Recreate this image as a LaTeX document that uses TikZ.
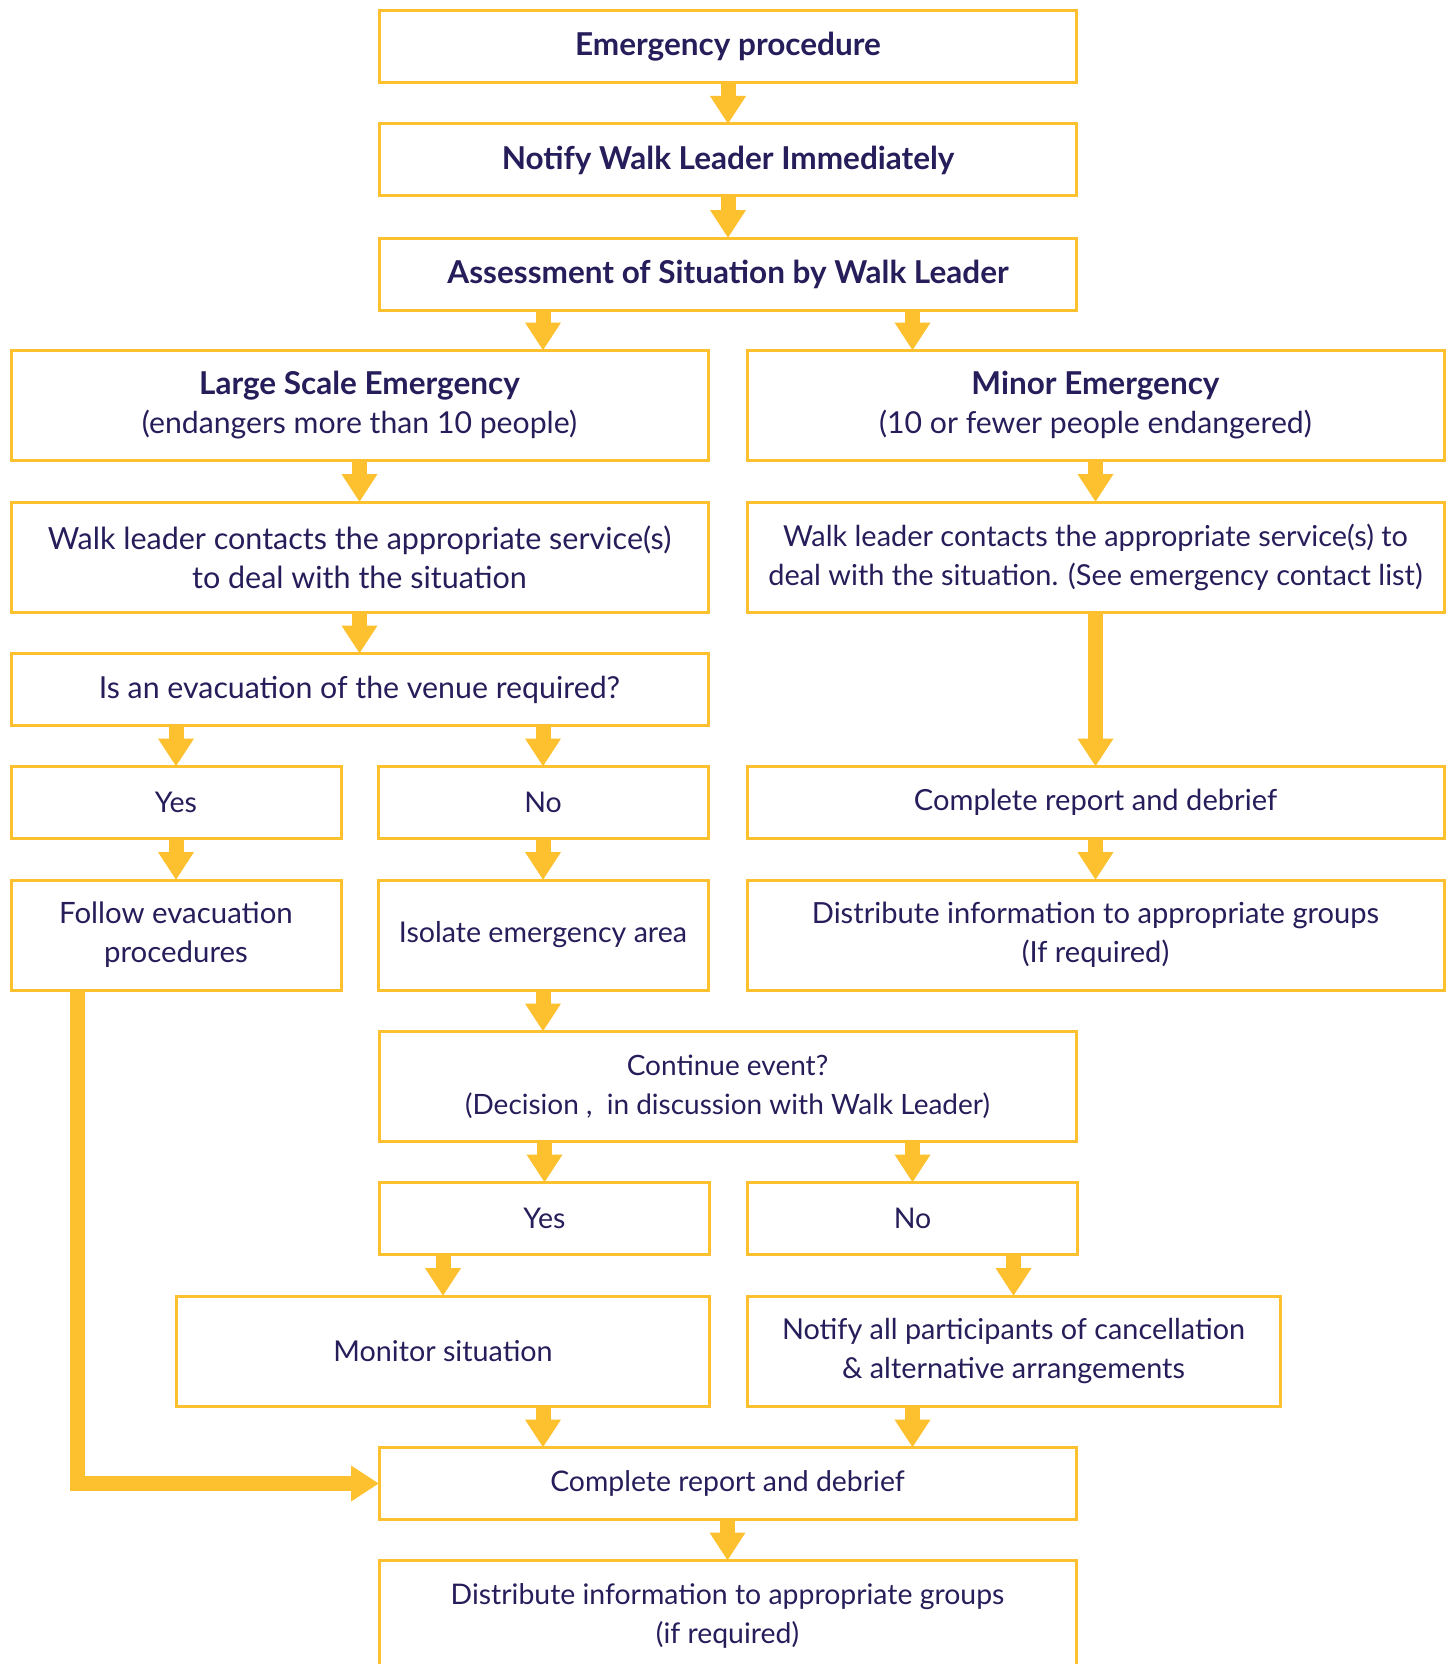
\documentclass[tikz,border=0pt]{standalone}
\usepackage{fontspec}
\setmainfont{Lato}
\usetikzlibrary{arrows.meta}
\definecolor{ybox}{RGB}{253,193,47}
\definecolor{ink}{RGB}{38,30,90}
\begin{document}
\begin{tikzpicture}[x=1pt,y=-1pt,
 box/.style={draw=ybox, line width=3pt, text=ink, align=center, inner sep=0pt, outer sep=0pt,
   font=\fontsize{28.5}{39}\selectfont},
 fsz/.style={font=\fontsize{#1}{39}\selectfont},
 wbig/.style={minimum width=697pt},
 wsmall/.style={minimum width=330pt},
 wmid/.style={minimum width=533pt},
 hs/.style={minimum height=72pt},
 ht/.style={minimum height=110pt},
 arr/.style={draw=ybox, line width=15pt, -{Triangle[width=34pt,length=28pt]}},
]
\path[use as bounding box, clip] (0,0) rectangle (1454,1664);
\fill[white] (0,0) rectangle (1454,1664);

\node[box,wbig,hs,fsz=31.5] (e1) at (728,47) {\bfseries Emergency procedure};
\node[box,wbig,hs,fsz=31.5] (e2) at (728,160) {\bfseries Notify Walk Leader Immediately};
\node[box,wbig,hs,fsz=31.5] (e3) at (728,274) {\bfseries Assessment of Situation by Walk Leader};

\node[box,wbig,ht,fsz=30.2] (large) at (359.5,405.5) {{\fontsize{31.5}{39}\selectfont\bfseries Large Scale Emergency}\\(endangers more than 10 people)};
\node[box,wbig,ht,fsz=30.2] (minor) at (1095.5,405.5) {{\fontsize{31.5}{39}\selectfont\bfseries Minor Emergency}\\(10 or fewer people endangered)};

\node[box,wbig,ht,fsz=30.5] (walkL) at (359.5,557) {Walk leader contacts the appropriate service(s)\\to deal with the situation};
\node[box,wbig,ht,fsz=28.9] (walkR) at (1095.5,557) {Walk leader contacts the appropriate service(s) to\\deal with the situation. (See emergency contact list)};

\node[box,wbig,hs,fsz=30.3] (evac) at (359.5,689.5) {Is an evacuation of the venue required?};

\node[box,wsmall,hs] (yes1) at (176,802.5) {Yes};
\node[box,wsmall,hs] (no1) at (543,802.5) {No};
\node[box,wbig,hs,fsz=29.1] (compR) at (1095.5,802.5) {Complete report and debrief};

\node[box,wsmall,ht,fsz=29.4] (follow) at (176,935) {Follow evacuation\\procedures};
\node[box,wsmall,ht,fsz=28.6] (isolate) at (543,935) {Isolate emergency area};
\node[box,wbig,ht,fsz=29.1] (distR) at (1095.5,935) {Distribute information to appropriate groups\\(If required)};

\node[box,wbig,ht,fsz=28] (cont) at (727.5,1086.5) {Continue event?\\(Decision ,\ \ in discussion with Walk Leader)};

\node[box,wsmall,hs] (yes2) at (544.5,1218.5) {Yes};
\node[box,wsmall,hs] (no2) at (912.5,1218.5) {No};

\node[box,wmid,ht,fsz=28.7] (monitor) at (443,1351) {Monitor situation};
\node[box,wmid,ht,fsz=28.8] (notify) at (1013.5,1351) {Notify all participants of cancellation\\\& alternative arrangements};

\node[box,wbig,hs,fsz=28.4] (compB) at (727.5,1483.5) {Complete report and debrief};
\node[box,wbig,ht,fsz=28.4] (distB) at (727.5,1615.5) {Distribute information to appropriate groups\\(if required)};

\coordinate (lx) at (77,0);

\draw[arr] (e1.south) -- (e2.north);
\draw[arr] (e2.south) -- (e3.north);
\draw[arr] (e3.south -| no1) -- (large.north -| no1);
\draw[arr] (e3.south -| no2) -- (minor.north -| no2);
\draw[arr] (large.south) -- (walkL.north);
\draw[arr] (minor.south) -- (walkR.north);
\draw[arr] (walkL.south) -- (evac.north);
\draw[arr] (evac.south -| yes1) -- (yes1.north);
\draw[arr] (evac.south -| no1) -- (no1.north);
\draw[arr] (yes1.south) -- (follow.north);
\draw[arr] (no1.south) -- (isolate.north);
\draw[arr] (walkR.south) -- (compR.north);
\draw[arr] (compR.south) -- (distR.north);
\draw[arr] (isolate.south) -- (cont.north -| isolate);
\draw[arr] (cont.south -| yes2) -- (yes2.north);
\draw[arr] (cont.south -| no2) -- (no2.north);
\draw[arr] (yes2.south -| monitor) -- (monitor.north);
\draw[arr] (no2.south -| notify) -- (notify.north);
\draw[arr] (monitor.south -| no1) -- (compB.north -| no1);
\draw[arr] (notify.south -| no2) -- (compB.north -| no2);
\draw[arr] (compB.south) -- (distB.north);
\draw[arr] (follow.south -| lx) |- (compB.west);
\end{tikzpicture}
\end{document}
